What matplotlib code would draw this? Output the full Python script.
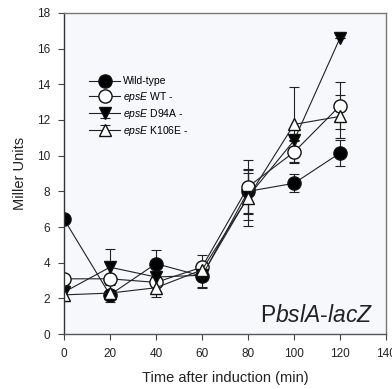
import matplotlib
matplotlib.use("Agg")
import matplotlib.pyplot as plt
import numpy as np

plt.rcParams['font.family'] = 'Liberation Sans'
plt.rcParams['mathtext.fontset'] = 'custom'
plt.rcParams['mathtext.rm'] = 'Liberation Sans'
plt.rcParams['mathtext.it'] = 'Liberation Sans:italic'

# time points (min)
t = [0, 20, 40, 60, 80, 100, 120]

# Miller units and error bars
wt = [6.45, 2.2, 3.95, 3.25, 8.0, 8.45, 10.15]
wt_err = [0.0, 0.0, 0.75, 0.6, 1.2, 0.5, 0.75]

epse_wt = [3.1, 3.1, 2.9, 3.75, 8.25, 10.2, 12.8]
epse_wt_err = [0.0, 0.0, 0.0, 0.7, 1.5, 0.6, 1.3]

d94a = [2.35, 3.75, 3.2, 3.3, 7.7, 10.85, 16.6]
d94a_err = [0.4, 1.0, 0.0, 0.7, 1.3, 0.0, 0.0]

k106e = [2.2, 2.3, 2.6, 3.6, 7.65, 11.75, 12.2]
k106e_err = [0.35, 0.5, 0.5, 0.0, 1.6, 2.1, 1.2]

labels = ['Wild-type', r'$\mathit{epsE}$ WT -', r'$\mathit{epsE}$ D94A -', r'$\mathit{epsE}$ K106E -']

fig = plt.figure(figsize=(3.92, 3.89), dpi=100)
ax = fig.add_axes([0.163, 0.141, 0.822, 0.826])
ax.set_facecolor('#f6f8fc')

series = [
    (wt, wt_err, 'o', 'black'),
    (epse_wt, epse_wt_err, 'o', 'white'),
    (d94a, d94a_err, 'v', 'black'),
    (k106e, k106e_err, '^', 'white'),
]
for (y, e, m, fc), lab in zip(series, labels):
    ms = 9.5 if m == 'o' else 8.5
    ax.errorbar(t, y, yerr=e, fmt='-', marker=m, color='#222222', mfc=fc, mec='#111111',
                ms=ms, lw=0.8, elinewidth=0.8, capsize=3.5, capthick=0.8, label=lab)

ax.set_xlim(0, 140)
ax.set_ylim(0, 18)
ax.set_xticks(range(0, 141, 20))
ax.set_yticks(range(0, 19, 2))
ax.tick_params(labelsize=8.5, direction='out', length=4, width=0.8, colors='#444444',
               labelcolor='#222222', pad=6)
for s in ax.spines.values():
    s.set_color('#777777')
    s.set_linewidth(1.0)
ax.spines['left'].set_color('#333333')
ax.spines['bottom'].set_color('#555555')

ax.set_xlabel('Time after induction (min)', fontsize=10.5, color='#222222', labelpad=8)
ax.set_ylabel('Miller Units', fontsize=10.5, color='#222222', labelpad=7)

leg = ax.legend(loc='upper left', bbox_to_anchor=(0.065, 0.815), frameon=False, fontsize=7.5,
                handlelength=3.0, labelspacing=0.3, handletextpad=0.3, borderaxespad=0)

ax.text(0.96, 0.037, r'P$\mathit{bslA}$-$\mathit{lacZ}$', transform=ax.transAxes,
        ha='right', va='baseline', fontsize=16.5, color='#222222')

fig.savefig('out.png', dpi=100)
